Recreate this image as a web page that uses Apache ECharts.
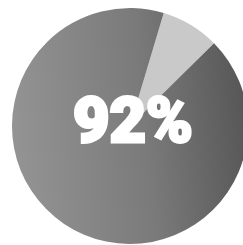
<!DOCTYPE html>
<html>
<head>
<meta charset="utf-8">
<script src="https://cdn.jsdelivr.net/npm/echarts@6/dist/echarts.min.js"></script>
<style>
	html,body{margin:0;padding:0;background:#fff;}
	#chart{width:243px;height:245px;}
</style>
</head>
<body>
<div id="chart"></div>
<script>
	var sliceNames = ['rest', 'share'];
	var sliceValues = [8, 92];
	var centerLabel = '92%';

	var myChart = echarts.init(document.getElementById('chart'), null, {renderer: 'canvas'});

	var pieData = [];
	for (var i = 0; i < sliceNames.length; i++) {
		pieData.push({name: sliceNames[i], value: sliceValues[i]});
	}
	// light wedge
	pieData[0].itemStyle = {color: '#c9c9c9'};
	// big slice, darker toward the right
	pieData[1].itemStyle = {
		color: new echarts.graphic.LinearGradient(0, 0.4, 1, 0.3, [
			{offset: 0, color: '#939393'},
			{offset: 0.55, color: '#7a7a7a'},
			{offset: 1, color: '#555555'}
		])
	};

	var option = {
		animation: false,
		series: [
			{
				type: 'pie',
				center: [130, 126],
				radius: [0, 118],
				startAngle: 73.4,
				clockwise: true,
				label: {show: false},
				labelLine: {show: false},
				emphasis: {disabled: true},
				data: pieData
			}
		],
		graphic: [
			{
				type: 'text',
				x: 133,
				y: 126,
				z: 100,
				style: {
					text: centerLabel,
					fill: '#ffffff',
					fontSize: 63,
					fontWeight: 900,
					fontFamily: 'Roboto, "Liberation Sans", sans-serif',
					stroke: '#ffffff',
					lineWidth: 3,
					align: 'center',
					verticalAlign: 'middle'
				}
			}
		]
	};
	myChart.setOption(option);
</script>
</body>
</html>
